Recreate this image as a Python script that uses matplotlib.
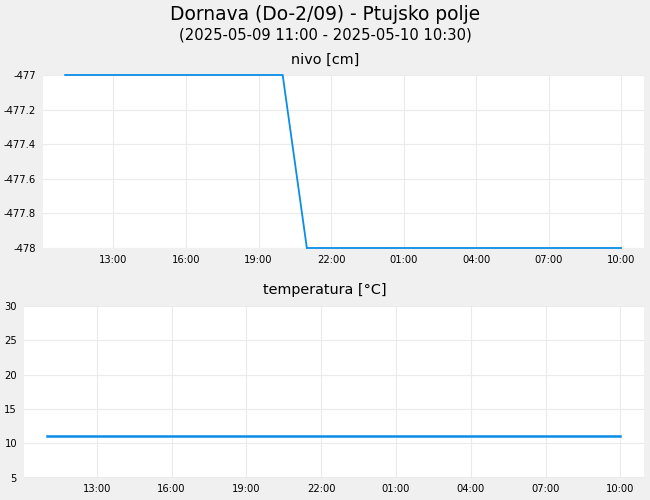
import matplotlib
matplotlib.use("Agg")
import matplotlib.pyplot as plt
import matplotlib.dates as mdates
import pandas as pd

title = "Dornava (Do-2/09) - Ptujsko polje"
subtitle = "(2025-05-09 11:00 - 2025-05-10 10:30)"
level_title = "nivo [cm]"
temp_title = "temperatura [°C]"

level_times = ["2025-05-09 11:00", "2025-05-09 20:00", "2025-05-09 21:00", "2025-05-10 10:00"]
level_values = [-477.0, -477.0, -478.0, -478.0]
temp_times = ["2025-05-09 11:00", "2025-05-10 10:00"]
temp_values = [11.1, 11.1]

level_yticks = [-477, -477.2, -477.4, -477.6, -477.8, -478]
level_ylabels = ["-477", "-477.2", "-477.4", "-477.6", "-477.8", "-478"]
temp_yticks = [5, 10, 15, 20, 25, 30]
tick_times = ["2025-05-09 13:00", "2025-05-09 16:00", "2025-05-09 19:00", "2025-05-09 22:00",
              "2025-05-10 01:00", "2025-05-10 04:00", "2025-05-10 07:00", "2025-05-10 10:00"]

line_color = "#0a8de8"
grid_color = "#ebebeb"
bg = "#f0f0f0"

lt = pd.to_datetime(level_times)
tt = pd.to_datetime(temp_times)
ticks = pd.to_datetime(tick_times)
xmin = pd.Timestamp("2025-05-09 10:05")
xmax = pd.Timestamp("2025-05-10 10:57")

fig = plt.figure(figsize=(6.5, 5), dpi=100, facecolor=bg)
fig.text(0.5, 0.972, title, ha="center", va="center", fontsize=13.4)
fig.text(0.5, 0.931, subtitle, ha="center", va="center", fontsize=10.6)
fig.text(0.5, 1-60/500, level_title, ha="center", va="center", fontsize=10.4)
fig.text(0.5, 1-290/500, temp_title, ha="center", va="center", fontsize=10.4)

ax1 = fig.add_axes([43/650, 1-248/500, (644-43)/650, (248-75)/500])
ax2 = fig.add_axes([24/650, 1-477.5/500, (644-24)/650, (477.5-306)/500])

def style(ax):
    ax.set_facecolor("white")
    for s in ax.spines.values():
        s.set_visible(False)
    ax.grid(True, color=grid_color, linewidth=0.8)
    ax.set_axisbelow(True)
    ax.tick_params(length=0, labelsize=7.2, pad=5)
    ax.set_xlim(xmin, xmax)
    ax.set_xticks(ticks)
    ax.xaxis.set_major_formatter(mdates.DateFormatter("%H:%M"))

style(ax1)
ax1.plot(lt, level_values, color=line_color, linewidth=1.3, clip_on=False, solid_joinstyle="miter")
ax1.set_ylim(-478, -477)
ax1.set_yticks(level_yticks)
ax1.set_yticklabels(level_ylabels)

style(ax2)
ax2.plot(tt, temp_values, color=line_color, linewidth=1.8)
ax2.set_ylim(5, 30)
ax2.set_yticks(temp_yticks)

fig.savefig("out.png", dpi=100, facecolor=bg)
